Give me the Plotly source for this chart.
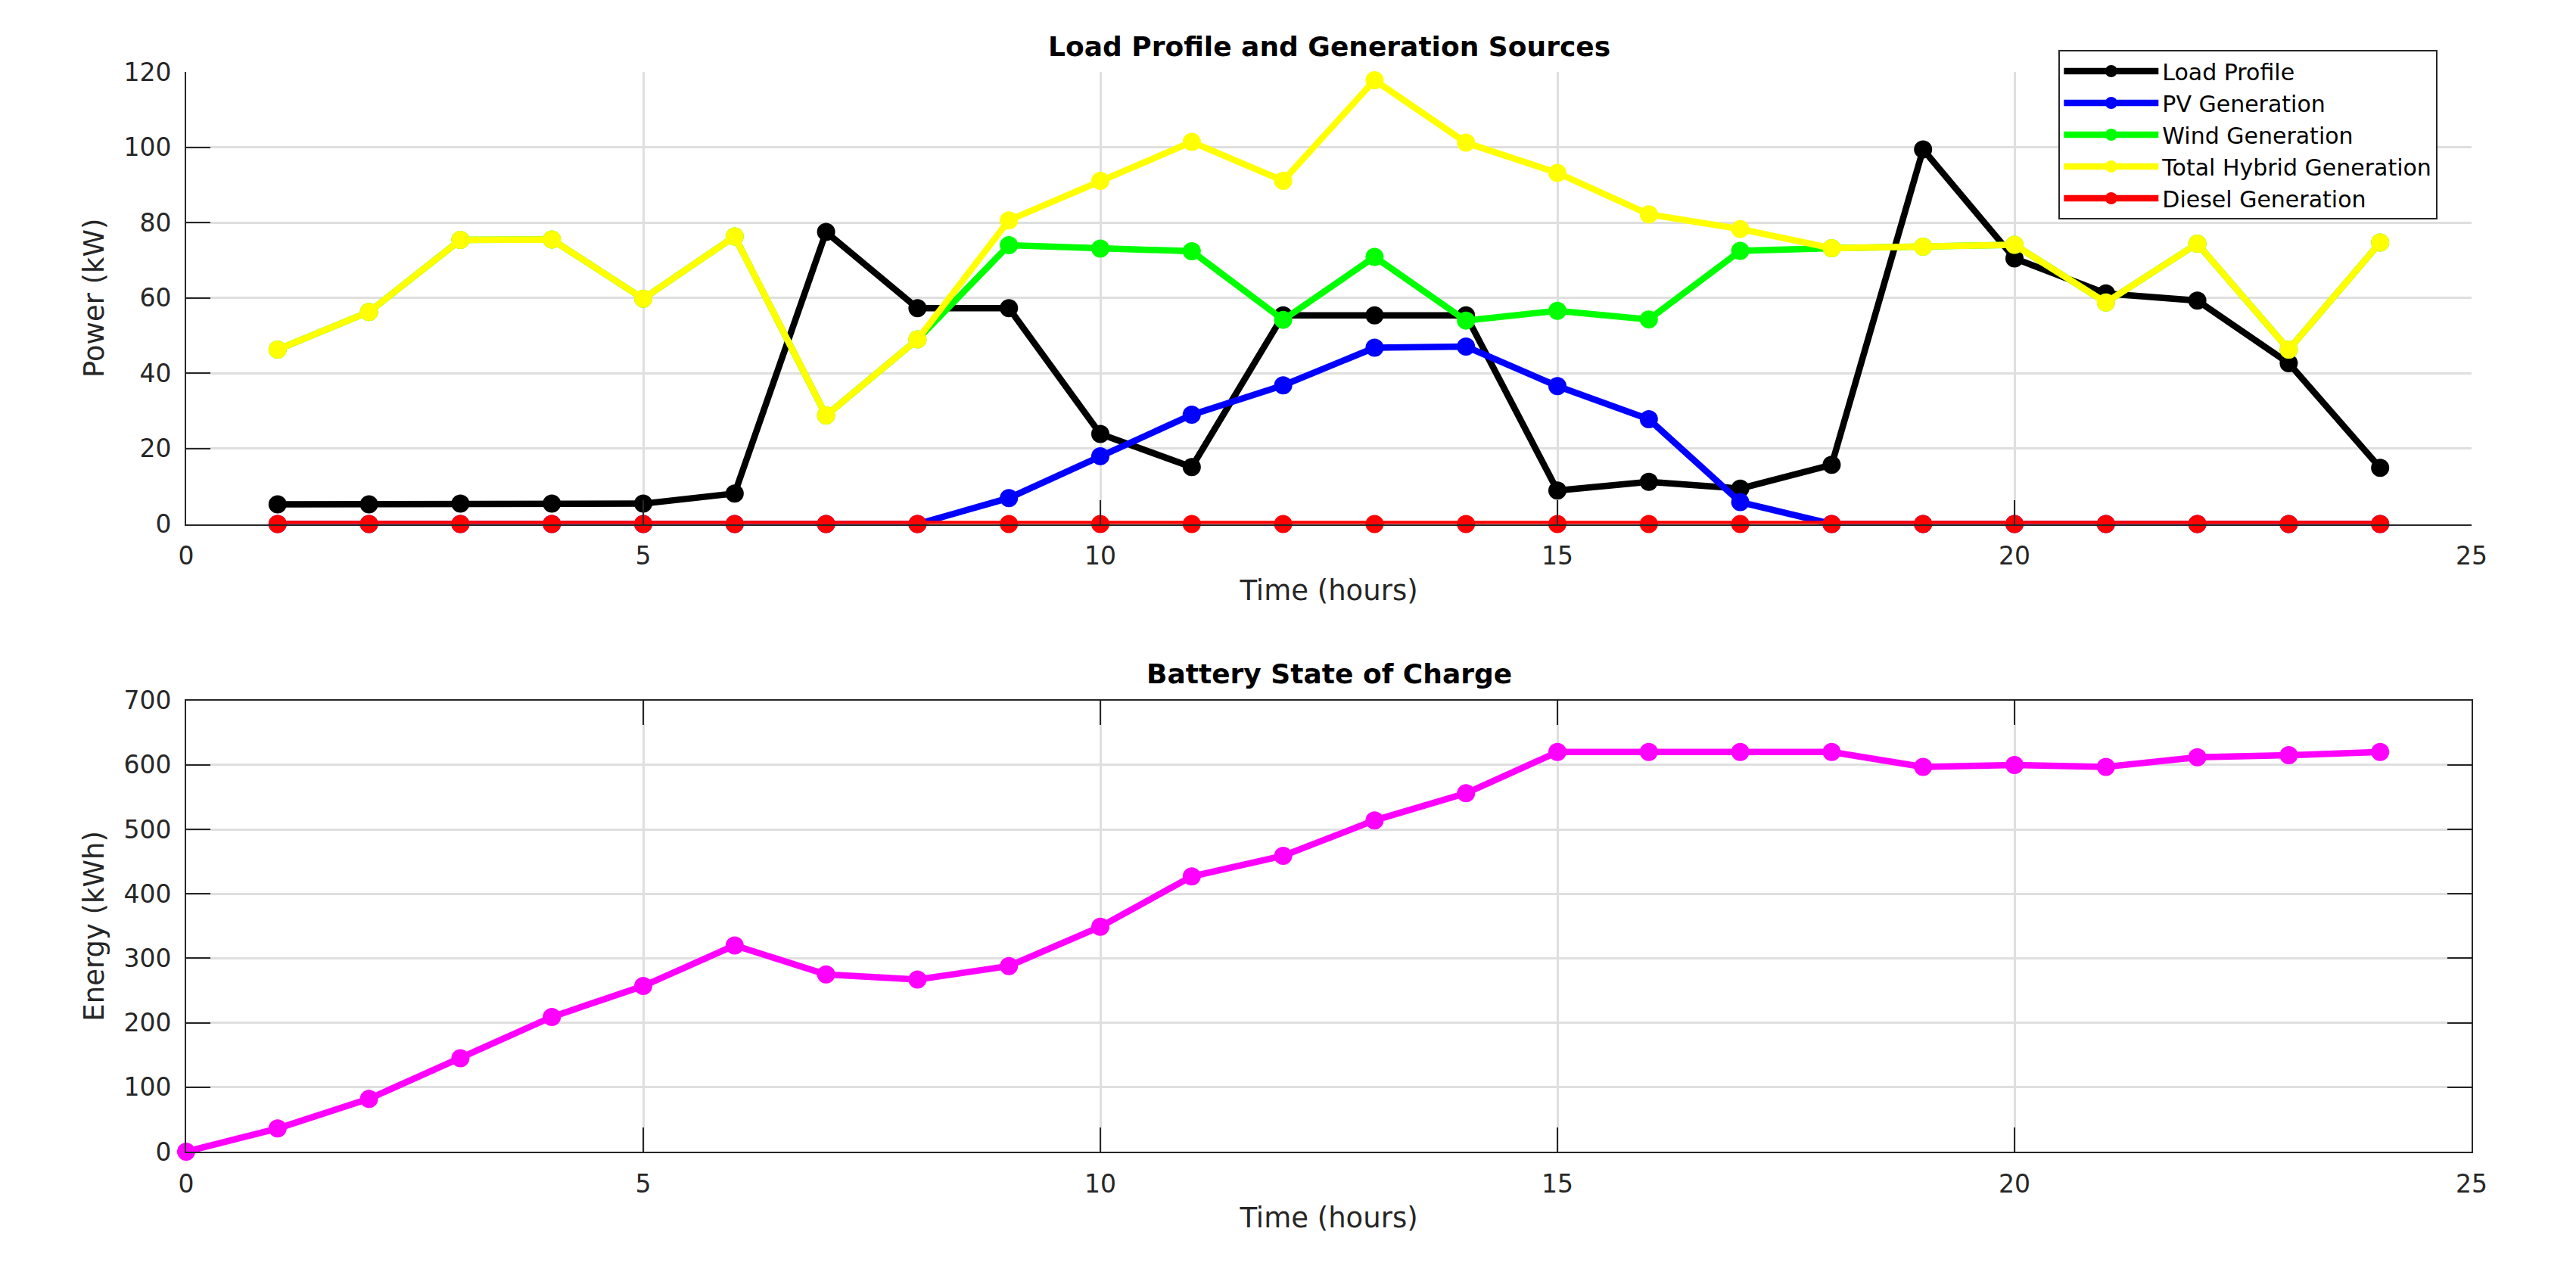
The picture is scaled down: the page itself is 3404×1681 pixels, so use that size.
import plotly.graph_objects as go

# ---------------- data ----------------
hours = [1, 2, 3, 4, 5, 6, 7, 8, 9, 10, 11, 12, 13, 14, 15, 16, 17, 18, 19, 20, 21, 22, 23, 24]
load_profile = [5.2, 5.2, 5.4, 5.4, 5.4, 8.1, 77.5, 57.3, 57.3, 23.9, 15.1, 55.4,
                55.4, 55.4, 8.9, 11.2, 9.4, 15.7, 99.4, 70.5, 61.2, 59.3, 42.7, 14.9]
pv_generation = [0, 0, 0, 0, 0, 0, 0, 0, 6.9, 18.0, 29.0, 36.8,
                 46.8, 47.1, 36.6, 27.8, 5.8, 0, 0, 0, 0, 0, 0, 0]
wind_generation = [46.3, 56.3, 75.4, 75.5, 59.8, 76.3, 28.8, 49.0, 74.0, 73.1, 72.4, 54.2,
                   70.9, 54.0, 56.6, 54.3, 72.5, 73.2, 73.6, 74.1, 58.8, 74.4, 46.3, 74.7]
total_hybrid = [46.3, 56.3, 75.4, 75.5, 59.8, 76.3, 28.8, 49.0, 80.6, 91.1, 101.4, 91.1,
                117.8, 101.2, 93.2, 82.2, 78.3, 73.2, 73.6, 74.1, 58.8, 74.4, 46.3, 74.7]
diesel_generation = [0, 0, 0, 0, 0, 0, 0, 0, 0, 0, 0, 0,
                     0, 0, 0, 0, 0, 0, 0, 0, 0, 0, 0, 0]

soc_hours = [0, 1, 2, 3, 4, 5, 6, 7, 8, 9, 10, 11, 12, 13, 14, 15, 16, 17, 18, 19, 20, 21, 22, 23, 24]
battery_soc = [0, 36, 82, 145, 209, 257, 320, 275, 267, 288, 349, 427, 459,
               514, 556, 620, 620, 620, 620, 597, 600, 597, 612, 615, 620]

series_names = ["Load Profile", "PV Generation", "Wind Generation",
                "Total Hybrid Generation", "Diesel Generation"]
series_values = [load_profile, pv_generation, wind_generation, total_hybrid, diesel_generation]
series_colors = ["#000000", "#0000FF", "#00FF00", "#FFFF00", "#FF0000"]

x_ticks = [0, 5, 10, 15, 20, 25]
power_ticks = [0, 20, 40, 60, 80, 100, 120]
energy_ticks = [0, 100, 200, 300, 400, 500, 600, 700]

# ---------------- style / layout ----------------
FONT = "DejaVu Sans, Liberation Sans, Arial, sans-serif"
AX = "#262626"
GRID = "#dfdfdf"
W, H = 3404, 1681
LW = 8.5
MS = 24
OFF = 8  # default page body margin of the browser

# plot area in screen pixels (reference picture)
L_PX, R_PX, T_PX, B_PX = 245.7, 3265.7, 95.0, 1522.0
TOP_BOTTOM_PX = 692.5
BOT_TOP_PX = 925.7


def px2x(px):
    return (px - L_PX) / (R_PX - L_PX)


def px2y(py):
    return (B_PX - py) / (B_PX - T_PX)


fig = go.Figure()
for name, vals, col in zip(series_names, series_values, series_colors):
    fig.add_trace(go.Scatter(
        x=hours, y=vals, name=name, mode="lines+markers",
        line=dict(color=col, width=LW), marker=dict(color=col, size=MS),
        cliponaxis=False, xaxis="x", yaxis="y"))

fig.add_trace(go.Scatter(
    x=soc_hours, y=battery_soc, name="Battery SOC", mode="lines+markers",
    line=dict(color="#FF00FF", width=LW), marker=dict(color="#FF00FF", size=MS),
    cliponaxis=False, showlegend=False, xaxis="x2", yaxis="y2"))

common = dict(
    ticks="inside", ticklen=32, tickwidth=2, tickcolor=AX,
    showline=True, linecolor=AX, linewidth=2,
    showgrid=True, gridcolor=GRID, gridwidth=2.5,
    zeroline=False, automargin=False,
    tickfont=dict(family=FONT, size=33, color=AX),
)
xcommon = dict(common, ticklabelstandoff=12)
ycommon = dict(common, ticklabelstandoff=11)
title_font = dict(family=FONT, size=37, color=AX)

fig.update_layout(
    width=W, height=H, autosize=False,
    margin=dict(l=L_PX - OFF, r=W - (R_PX - OFF), t=T_PX - OFF, b=H - (B_PX - OFF), pad=0),
    paper_bgcolor="white", plot_bgcolor="white",
    font=dict(family=FONT, color=AX),
    xaxis=dict(domain=[0, 1], anchor="y", range=[0, 25], tickvals=x_ticks, mirror=False,
               title=dict(text="Time (hours)", font=title_font, standoff=14),
               **xcommon),
    yaxis=dict(domain=[px2y(TOP_BOTTOM_PX), 1], anchor="x", range=[0, 120],
               tickvals=power_ticks, mirror=False,
               title=dict(text="Power (kW)", font=title_font, standoff=14),
               **ycommon),
    xaxis2=dict(domain=[0, 1], anchor="y2", range=[0, 25], tickvals=x_ticks, mirror="ticks",
                title=dict(text="Time (hours)", font=title_font, standoff=14),
                **xcommon),
    yaxis2=dict(domain=[0, px2y(BOT_TOP_PX)], anchor="x2", range=[0, 700],
                tickvals=energy_ticks, mirror="ticks",
                title=dict(text="Energy (kWh)", font=title_font, standoff=14),
                **ycommon),
    legend=dict(x=px2x(2720), y=px2y(66), xanchor="left", yanchor="top",
                bgcolor="white", bordercolor=AX, borderwidth=2,
                font=dict(family=FONT, size=30, color="#000000"),
                itemwidth=125, tracegroupgap=0),
    annotations=[
        dict(text="<b>Load Profile and Generation Sources</b>", xref="paper", yref="paper",
             x=0.5, y=px2y(62), xanchor="center", yanchor="middle",
             showarrow=False, font=dict(family=FONT, size=36, color="#000000")),
        dict(text="<b>Battery State of Charge</b>", xref="paper", yref="paper",
             x=0.5, y=px2y(891), xanchor="center", yanchor="middle",
             showarrow=False, font=dict(family=FONT, size=36, color="#000000")),
    ],
)

fig.write_html("out.html")
